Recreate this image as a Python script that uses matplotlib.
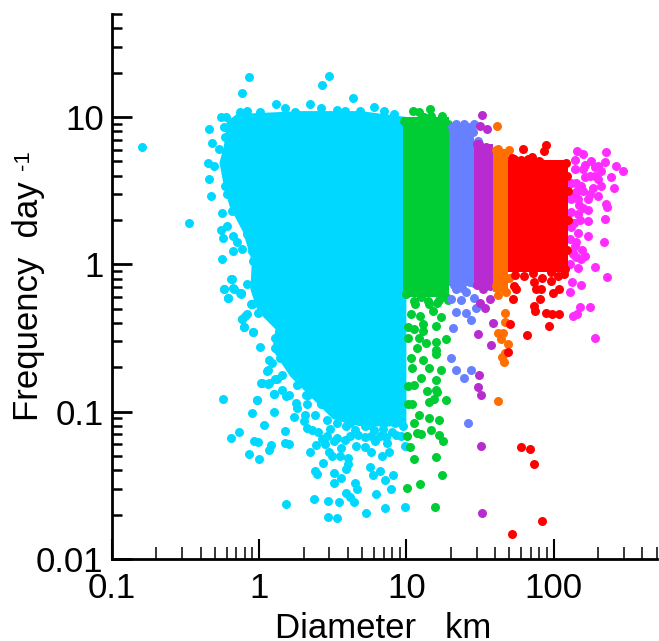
import numpy as np
import matplotlib
matplotlib.use('Agg')
import matplotlib.pyplot as plt
from matplotlib.ticker import FixedLocator, LogLocator, NullFormatter

plt.rcParams['font.family'] = ['Liberation Sans', 'DejaVu Sans']

# all values, as log10(diameter km), log10(frequency per day)
cyan_mass_d = [-.15, .28, .69, 1.0, 1.0, .85, .7, .6, .5, .4, .3, .21, .09, .11, -.01, -.06, -.05, -.11, -.2, -.24, -.27, -.24, -.22]
cyan_mass_f = [1.02, 1.04, 1.04, 1.0, -1.1, -1.1, -1.1, -1.08, -1.05, -.95, -.85, -.76, -.58, -.44, -.32, -.17, .02, .22, .39, .53, .69, .80, .97]

cyan_d = [-.243, -.018, -.048, .098, .034, -.136, -.189, -.034, -.007, -.068, 0, .077, .064, .173, .177, .204,
          .184, .37, .469, .543, .469, .53, .727, .852, .993, .646, .62, .591, .793, .895, .663, .65, .507, .559,
          .511, .38, .391, .431, .348, .389, .472, .495, .552, .605, .605, .593, .755, .818, .775, .852, .909,
          .834, .884, .762, .718, .866, .657, .557, .53, .462, .428, .62, .757, .82, .961, .99, .234, .302, .325,
          .36, .38, .31, .462, .53, .62, .65, .72, .78, .85, .96, .325, .32, .405, .5, .26, .1, .18, .014, .057,
          .06, .12, .003, -.041, -.1, -.118, -.084, -.005, -.209, -.241, -.125, -.057, -.175,
          -.795, -.475, -.068, -.118, .477, .429, .636, -.341, -.318, -.345, -.343, -.327, -.25, -.261, -.245,
          -.175, -.25, -.118, -.175, -.15, -.22, -.241, -.211, -.19, -.168, -.125, -.083, -.05, -.261, -.225,
          -.237, -.232, -.27, -.31, -.232, -.22, -.186, -.083, -.016, -.05, -.04, .03, .075,
          -.13, -.084, .007, .114, .178, .245, .347, .42, .53, .585, .684, .78, .85, .916, -.145,
          -.186, -.13, -.05, -.095, -.118, -.101, -.043, .087, .052, .018, .064, .109, .155, .102, .155, .2, -.017,
          .25, .33, .405, .26, .348, .064, .109, .109, .064, .143,
          .58, .66, .74, .8, .88, .92, .98, .68, .75, .84, .9, .5, .42, .56, .59, .48, .4, .45, .51, .58, .67, .72,
          .79, .86, .93]
cyan_f = [-.912, -.923, -1.011, -1.002, -1.093, -1.138, -1.177, -1.197, -1.209, -1.286, -1.32, -1.229, -1.261,
          -1.129, -1.213, -1.218, -1.624, -1.592, -1.607, -1.61, -1.714, -1.719, -1.689, -1.651, -1.646, -1.61,
          -1.576, -1.549, -1.556, -1.526, -1.526, -1.485, -1.481, -1.447, -1.417, -1.4, -1.42, -1.347, -1.272,
          -1.224, -1.272, -1.304, -1.304, -1.315, -1.354, -1.386, -1.376, -1.401, -1.429, -1.465, -1.431, -1.304,
          -1.272, -1.272, -1.243, -1.215, -1.231, -1.247, -1.18, -1.168, -1.186, -1.168, -1.168, -1.168, -1.168,
          -1.236, -1.034, -1.066, -1.11, -1.122, -1.02, -1.02, -1.059, -1.077, -1.077, -1.122, -1.1, -1.122,
          -1.077, -1.044, -.95, -.89, -.87, -.945, -.975, -.88, -.895, -.807, -.719, -.814, -.78, -.56, -.458,
          -.424, -.374, -.34, -.329, -.229, -.168, -.197, -.272, -.16,
          .794, .281, 1.272, 1.165, 1.281, 1.218, 1.131, .92, .821, .685, .576, .467, .345, .231, .181,
          .09, .034, .107, .193, .15, .26, -.168, -.229, -.102, -.166, -.2, -.136, -.272, 1.002, .997,
          .933, .861, .782, .67, .534, .476, .362, .204, .169, .09, .02, -.056, -.1,
          1.036, 1.043, 1.036, 1.088, 1.063, 1.032, 1.09, 1.063, 1.05, 1.043, 1.043, 1.07, 1.043, 1.02, .99,
          -.102, -.197, -.272, -.351, -.374, -.424, -.46, -.669, -.725, -.805, -.805, -.78, -.748, -.88, -.85, -.885,
          -.923, -.94, -.885, -.874, -.816, -.782, -.306, -.5, -.567, -.646, -.635,
          -.97, -1.0, -1.02, -1.03, -1.01, -1.08, -1.1, -1.06, -1.09, -1.12, -1.14, -1.0, -.95, -1.03, -1.1, -1.12,
          -1.14, -1.22, -1.2, -1.19, -1.16, -1.17, -1.2, -1.17, -1.16]

green_d = [1.045, 1.087, 1.159, 1.17, 1.243, 1.12, .985, 1.28, 1.193, 1.002, 1.089, 1.054, 1.202, 1.025, 1.007,
           1.075, 1.1, 1.168, 1.222, 1.053, 1.086, 1.155, 1.222, 1.008, 1.035, 1.155, 1.185, 1.14, 1.2, 1.008,
           1.05, 1.1, 1.04, 1.155, 1.2, 1.03, 1.11, 1.2, 1.075, 1.13, 1.2, 1.008, 1.085, 1.008, 1.05, 1.11, 1.2,
           1.11, 1.03, 1.095, 1.18, 1.06, 1.155, 1.21, 1.24, 1.247, 1.268, 1.2, 1.27, 1.234, 1.28, 1.234, 1.207,
           1.0, 1.05, 1.1, 1.15, 1.22, 1.27]
green_f = [1.039, 1.032, 1.054, 1.009, 1.009, .998, .975, .953, -1.648, -1.517, -1.49, -1.32, -1.308, -1.243,
           -1.168, -1.145, -1.15, -1.122, -1.16, -1.077, -1.02, -1.044, -1.055, -.945, -.945, -.936, -.914, -.862,
           -.85, -.827, -.816, -.77, -.703, -.703, -.782, -.635, -.646, -.607, -.567, -.533, -.528, -.5, -.5,
           -.426, -.442, -.454, -.42, -.408, -.34, -.35, -.317, -.272, -.272, -.26, -1.43, -1.2, -.92, -.58, -.51,
           -.714, -.24, -.36, -.864, -.2, -.25, -.22, -.25, -.24, -.22]

blue_d = [1.389, 1.314, 1.461, 1.484, 1.336, 1.302, 1.37, 1.457, 1.473, 1.336, 1.404, 1.438, 1.318, 1.461, 1.336,
          1.404, 1.336, 1.39, 1.438, 1.418, 1.302, 1.32, 1.38, 1.43, 1.31, 1.34, 1.42, 1.45]
blue_f = [.952, .918, .952, .84, -.165, -.233, -.242, -.227, -.295, -.324, -.329, -.379, -.429, -.125, -.114,
          -.19, -.714, -.769, -.714, -1.075, -.633, -.14, -.16, -.12, .93, .95, .93, .9]

purple_d = [1.511, 1.503, 1.548, 1.495, 1.54, 1.502, 1.534, 1.57, 1.588, 1.484, 1.493, 1.486, 1.507, 1.507, 1.513,
            1.575, 1.48, 1.52, 1.57, 1.48, 1.55, 1.58]
purple_f = [1.013, .936, .916, .816, .794, -.26, -.295, -.238, -.395, -.476, -.748, -.83, -.884, -1.231, -1.687,
            -.55, -.14, -.17, -.15, .82, .78, .72]

orange_d = [1.614, 1.609, 1.696, 1.67, 1.67, 1.62, 1.658, 1.62, 1.677, 1.609, 1.698, 1.622, 1.65, 1.67, 1.66, 1.64,
            1.69, 1.62, 1.66]
orange_f = [.939, .776, .776, -.333, -.392, -.468, -.468, -.205, -.189, -.148, -.09, -.925, -.63, -.6, -.66, -.51,
            -.54, .78, .75]

red_d = [1.95, 1.932, 1.79, 2.081, 1.825, 1.734, 1.915, 2.03, 1.734, 1.745, 1.725, 1.87, 1.88, 1.915, 1.995, 2.04,
         2.07, 1.985, 1.87, 1.905, 1.875, 1.95, 1.99, 2.036, 1.707, 1.968, 1.816, 1.78, 1.84, 1.868, 1.922, 1.718,
         1.69, 1.72, 1.78, 1.85, 1.9, 1.96, 2.0, 2.06, 2.09, 1.74, 1.8, 1.86, 1.92, 1.98, 2.03, 2.08, 2.1, 2.1, 2.09]
red_f = [.812, .767, .782, .687, .714, .714, .687, .612, -.147, -.17, -.232, -.12, -.17, -.17, -.193, -.17,
         -.068, -.113, -.28, -.238, -.32, -.33, -.34, -.335, -.408, -.42, -.483, -1.238, -1.252, -1.354, -1.741,
         -1.83, -.592, .72, .71, .73, .7, .66, .63, .62, .6, -.07, -.08, -.06, -.09, -.05, -.08, -.03, .5, .3, .1]

magenta_d = [2.159, 2.199, 2.358, 2.148, 2.253, 2.347, 2.215, 2.302, 2.422, 2.474, 2.325, 2.393, 2.143, 2.21, 2.279,
             2.325, 2.409, 2.268, 2.187, 2.143, 2.302, 2.234, 2.165, 2.12, 2.355, 2.36, 2.234, 2.12, 2.165, 2.132,
             2.352, 2.234, 2.234, 2.165, 2.109, 2.143, 2.34, 2.216, 2.188, 2.132, 2.109, 2.165, 2.279, 2.365, 2.125,
             2.184, 2.113, 2.177, 2.247, 2.13, 2.16, 2.28,
             2.15, 2.2, 2.25, 2.12, 2.17, 2.2, 2.14, 2.18, 2.15, 2.13, 2.19, 2.15, 2.12, 2.16, 2.25, 2.3, 2.28, 2.2]
magenta_f = [.767, .751, .76, .707, .703, .696, .673, .664, .669, .635, .635, .596, .646, .59, .6, .533, .521, .521,
             .533, .487, .461, .442, .442, .442, .408, .386, .369, .352, .34, .283, .306, .295, .19, .215, .17, .125,
             .152, .057, .034, .068, 0, -.027, -.018, -.086, -.12, -.137, -.19, -.29, -.29, -.35, -.34, -.5,
             .55, .5, .48, .55, .4, .38, .28, .3, .15, .08, .1, .05, .25, .5, .6, .58, .66, .65]

# solid bands: left, right, low, high
green_band = [.98, 1.29, -.22, 1.0]
blue_band = [1.29, 1.46, -.15, .95]
purple_band = [1.46, 1.59, -.15, .82]
orange_band = [1.59, 1.69, -.19, .78]
red_band = [1.69, 2.10, -.05, .71]

fig = plt.figure(figsize=(6.59, 6.41), dpi=100)
ax = fig.add_axes([112/659, (641-559)/641, 544.5/659, 545/641])


def draw(d, f, color, band=None):
    ax.scatter(10**np.array(d), 10**np.array(f), s=42, color=color, linewidths=0, clip_on=False)
    if band:
        x = 10**np.array(band[:2])
        ax.fill_between(x, 10**band[2], 10**band[3], color=color, linewidth=0)


ax.fill(10**np.array(cyan_mass_d), 10**np.array(cyan_mass_f), color='#00D8FF', linewidth=0)
draw(cyan_d, cyan_f, '#00D8FF')
draw(magenta_d, magenta_f, '#FF2CFF')
draw(green_d, green_f, '#00CC33', green_band)
draw(blue_d, blue_f, '#6680FF', blue_band)
draw(purple_d, purple_f, '#B82BD0', purple_band)
draw(orange_d, orange_f, '#FF6E00', orange_band)
draw(red_d, red_f, '#FF0000', red_band)

ax.set_xscale('log')
ax.set_yscale('log')
ax.set_xlim(0.1, 500)
ax.set_ylim(0.01, 50)
for s in ['top', 'right']:
    ax.spines[s].set_visible(False)
for s in ['left', 'bottom']:
    ax.spines[s].set_linewidth(2)

ax.xaxis.set_major_locator(FixedLocator([0.1, 1, 10, 100]))
ax.yaxis.set_major_locator(FixedLocator([0.01, 0.1, 1, 10]))
ax.xaxis.set_minor_locator(LogLocator(base=10, subs=np.arange(2, 10), numticks=12))
ax.yaxis.set_minor_locator(LogLocator(base=10, subs=np.arange(2, 10), numticks=12))
ax.xaxis.set_minor_formatter(NullFormatter())
ax.yaxis.set_minor_formatter(NullFormatter())
ax.set_xticklabels(['0.1', '1', '10', '100'])
ax.set_yticklabels(['0.01', '0.1', '1', '10'])
ax.tick_params(axis='x', which='major', direction='in', length=14.4, width=1.5, labelsize=25, pad=9)
ax.tick_params(axis='x', which='minor', direction='in', length=8.5, width=1.1)
ax.tick_params(axis='y', which='major', direction='in', length=14.4, width=2, labelsize=25, pad=6)
ax.tick_params(axis='y', which='minor', direction='in', length=7.5, width=1.8)

fig.text(275/659, 1-638/641, 'Diameter   km', fontsize=25, ha='left', va='baseline')
fig.text(38/659, 1-421/641, 'Frequency  day', fontsize=25, rotation=90, ha='left', va='baseline',
         rotation_mode='anchor')
fig.text(29/659, 1-170/641, '-1', fontsize=16, rotation=90, ha='left', va='baseline', rotation_mode='anchor')

fig.savefig('out.png', dpi=100)
